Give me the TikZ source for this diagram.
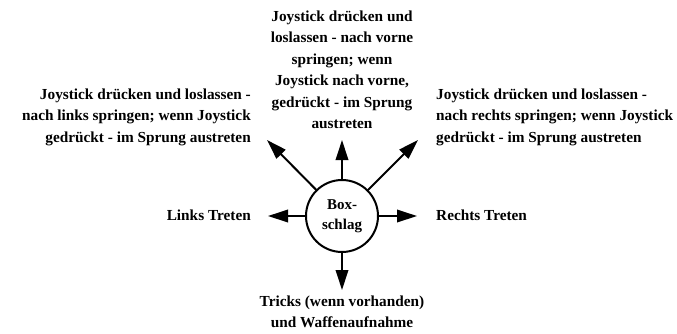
\documentclass[tikz,border=0pt]{standalone}
\usepackage{fontspec}
\setmainfont{Liberation Serif}
\usetikzlibrary{arrows.meta,positioning}

\tikzset{
  movetext/.style={font=\bfseries\fontsize{15.3}{21.5}\selectfont,inner sep=0pt},
  movearrow/.style={-{Triangle[length=20pt,width=12.5pt]},line width=2pt}
}

\begin{document}
\begin{tikzpicture}[x=1pt,y=-1pt,line cap=round]
 \useasboundingbox (0,0) rectangle (677,333);
 \node[draw,circle,line width=2pt,minimum size=72pt,inner sep=0pt,align=center,
   font=\bfseries\fontsize{15}{20}\selectfont] (box) at (342,216) {Box-\\schlag};
 % tips of the arrows
 \coordinate (tipn) at (342,140);
 \coordinate (tipne) at (418,140);
 \coordinate (tipe) at (417,216);
 \coordinate (tips) at (342,290);
 \coordinate (tipw) at (268,216);
 \coordinate (tipnw) at (267,140);
 \foreach \t in {n,ne,e,s,w,nw}
   \draw[movearrow] (box) -- (tip\t);
 % labels
 \node[movetext,align=center] (vorne) at (342,70)
   {Joystick drücken und\\loslassen - nach vorne\\springen; wenn\\Joystick nach vorne,\\gedrückt - im Sprung\\austreten};
 \node[movetext,align=right,anchor=east] (links) at (251,117)
   {Joystick drücken und loslassen -\\nach links springen; wenn Joystick\\gedrückt - im Sprung austreten};
 \node[movetext,align=left,anchor=west] (rechts) at (436,117)
   {Joystick drücken und loslassen -\\nach rechts springen; wenn Joystick\\gedrückt - im Sprung austreten};
 \node[movetext,anchor=east] (linkstreten) at (251,215) {Links Treten};
 \node[movetext,anchor=west] (rechtstreten) at (436,215) {Rechts Treten};
 \node[movetext,align=center] (tricks) at (342,312)
   {Tricks (wenn vorhanden)\\und Waffenaufnahme};
\end{tikzpicture}
\end{document}
